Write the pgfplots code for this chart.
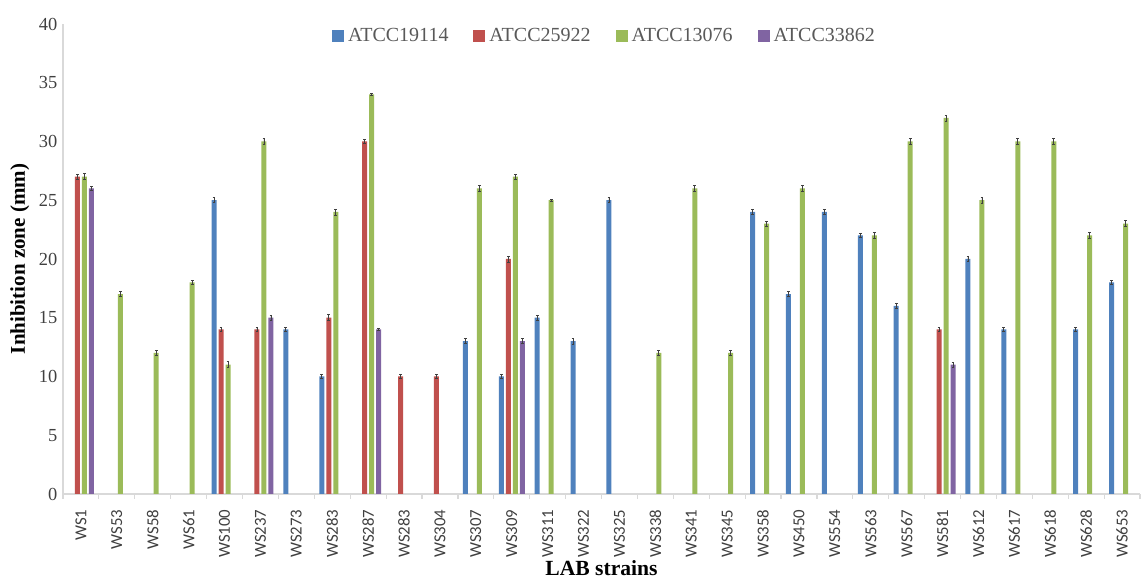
\documentclass[border=0pt]{standalone}
\usepackage{fontspec}
\setmainfont{Liberation Serif}
\newfontfamily\xfont{Carlito}
\usepackage{pgfplots}
\pgfplotsset{compat=1.18}
\definecolor{cA}{HTML}{4F81BD}
\definecolor{cB}{HTML}{C0504D}
\definecolor{cC}{HTML}{9BBB59}
\definecolor{cD}{HTML}{8064A2}
\definecolor{axgray}{HTML}{D9D9D9}
\definecolor{txgray}{HTML}{404040}
\definecolor{lggray}{HTML}{595959}
\begin{document}
\begin{tikzpicture}
\begin{axis}[
  name=ax, at={(0,0)}, anchor=south west,
  scale only axis, width=538.5pt, height=235pt,
  ybar=1pt, bar width=2.5pt,
  xmin=-0.5, xmax=29.5, ymin=0, ymax=40,
  axis x line*=bottom, axis y line*=left,
  axis line style={axgray, line width=0.6pt},
  xtick={0,...,29},
  xticklabels={WS1,WS53,WS58,WS61,WS100,WS237,WS273,WS283,WS287,WS283,WS304,WS307,WS309,WS311,WS322,WS325,WS338,WS341,WS345,WS358,WS450,WS554,WS563,WS567,WS581,WS612,WS617,WS618,WS628,WS653},
  x tick label style={rotate=90, anchor=east, font=\xfont\fontsize{8.4}{10}\selectfont, text=txgray},
  major x tick style={draw=none},
  minor xtick={-0.5,0.5,...,29.5},
  minor x tick style={axgray, line width=0.6pt},
  tick align=outside, minor tick length=2.5pt,
  ytick={0,5,...,40},
  y tick style={draw=none},
  y tick label style={font=\fontsize{9.2}{11}\selectfont, text=txgray, xshift=5pt},
  /pgf/number format/assume math mode=true,
  xlabel={LAB strains},
  ylabel={Inhibition zone (mm)},
  xlabel style={at={(axis description cs:0.5,-0.157)}, anchor=center, inner sep=1pt, font=\bfseries\fontsize{10.8}{12}\selectfont},
  ylabel style={at={(axis description cs:-0.040,0.5)}, anchor=center, font=\bfseries\fontsize{10.5}{12}\selectfont},
  legend columns=4,
  legend style={at={(0.5037,0.9745)}, anchor=center, draw=none, fill=none,
    font=\fontsize{10}{12}\selectfont, text=lggray,
    /tikz/every even column/.append style={column sep=10.5pt}},
  legend image code/.code={\fill[#1] (0pt,-3pt) rectangle (6pt,3pt);},
  error bars/y dir=both, error bars/y explicit,
  error bars/error bar style={black!75, line width=0.4pt},
  error bars/error mark options={rotate=90, mark size=0.7pt, black!75, line width=0.4pt},
]
\addplot[fill=cA, draw=none] coordinates {
(4,25) +- (0,0.2) (6,14) +- (0,0.2) (7,10) +- (0,0.2) (11,13) +- (0,0.2)
(12,10) +- (0,0.2) (13,15) +- (0,0.2) (14,13) +- (0,0.25) (15,25) +- (0,0.2)
(19,24) +- (0,0.2) (20,17) +- (0,0.2) (21,24) +- (0,0.2) (22,22) +- (0,0.2)
(23,16) +- (0,0.2) (25,20) +- (0,0.2) (26,14) +- (0,0.2) (28,14) +- (0,0.2)
(29,18) +- (0,0.2)};
\addplot[fill=cB, draw=none] coordinates {
(0,27) +- (0,0.2) (4,14) +- (0,0.2) (5,14) +- (0,0.2) (7,15) +- (0,0.25)
(8,30) +- (0,0.2) (9,10) +- (0,0.2) (10,10) +- (0,0.2) (12,20) +- (0,0.25)
(24,14) +- (0,0.2)};
\addplot[fill=cC, draw=none] coordinates {
(0,27) +- (0,0.25) (1,17) +- (0,0.2) (2,12) +- (0,0.2) (3,18) +- (0,0.2)
(4,11) +- (0,0.25) (5,30) +- (0,0.25) (7,24) +- (0,0.25) (8,34) +- (0,0.1)
(11,26) +- (0,0.25) (12,27) +- (0,0.2) (13,25) +- (0,0.1) (16,12) +- (0,0.2)
(17,26) +- (0,0.25) (18,12) +- (0,0.2) (19,23) +- (0,0.2) (20,26) +- (0,0.25)
(22,22) +- (0,0.25) (23,30) +- (0,0.25) (24,32) +- (0,0.25) (25,25) +- (0,0.25)
(26,30) +- (0,0.25) (27,30) +- (0,0.25) (28,22) +- (0,0.25) (29,23) +- (0,0.25)};
\addplot[fill=cD, draw=none] coordinates {
(0,26) +- (0,0.2) (5,15) +- (0,0.2) (8,14) +- (0,0.1) (12,13) +- (0,0.2)
(24,11) +- (0,0.2)};
\legend{ATCC19114,ATCC25922,ATCC13076,ATCC33862}
\end{axis}
\pgfresetboundingbox
\path ([shift={(-31.5pt,-42pt)}]ax.south west) rectangle ([shift={(1pt,12pt)}]ax.north east);
\end{tikzpicture}
\end{document}
